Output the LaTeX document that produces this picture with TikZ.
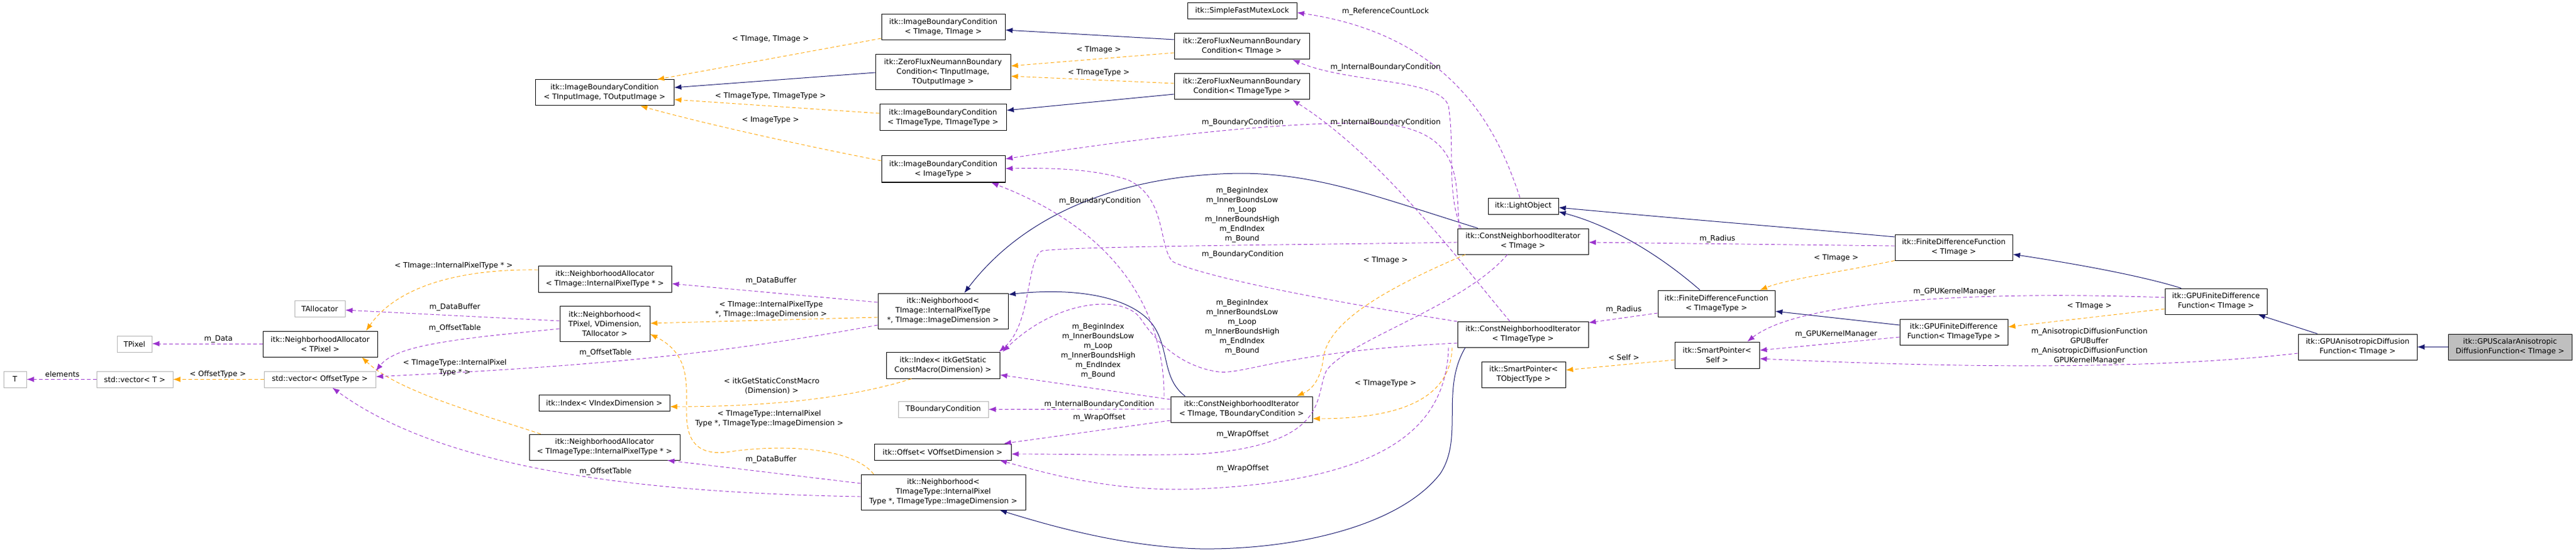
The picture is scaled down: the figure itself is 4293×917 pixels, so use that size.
\documentclass[tikz,border=0pt]{standalone}
\usepackage{fontspec}
\setmainfont{DejaVu Sans}
\usetikzlibrary{arrows.meta}
\definecolor{inhc}{HTML}{191970}
\definecolor{usec}{HTML}{9A32CD}
\definecolor{tplc}{HTML}{FFA500}
\newcommand\nd[7][box]{\node[#1,minimum width={(#5-#3)*1pt},minimum height={(#6-#4)*1pt}] (#2) at ({(#3+#5)/2},{(#4+#6)/2}) {#7};}
\newcommand\lb[4]{\node[lbl] (#1) at (#2,#3) {#4};}
\begin{document}
\begin{tikzpicture}[x=1pt,y=-1pt,
  every node/.style={font=\fontsize{12.3}{16}\selectfont},
  box/.style={draw=black,line width=1pt,fill=white,inner sep=0pt,align=center},
  gbox/.style={box,draw=black!30},
  cbox/.style={box,fill=black!25},
  lbl/.style={inner sep=0pt,align=center},
  tip/.style={-{Latex[length=12pt,width=9pt]}},
  inh/.style={tip,draw=inhc,line width=1pt},
  use/.style={tip,draw=usec,line width=0.9pt,dash pattern=on 6pt off 4pt},
  tpl/.style={tip,draw=tplc,line width=0.9pt,dash pattern=on 6pt off 4pt}]
\useasboundingbox[fill=white] (0,0) rectangle (4293,917);
% nodes
\nd{ibcIO}{892}{133}{1123}{176}{itk::ImageBoundaryCondition\\< TInputImage, TOutputImage >}
\nd{naA}{897}{443}{1119}{487}{itk::NeighborhoodAllocator\\< TImage::InternalPixelType * >}
\nd{nbP}{933}{510}{1083}{569}{itk::Neighborhood<\\TPixel, VDimension,\\TAllocator >}
\nd[gbox]{tal}{491}{501}{575}{528}{TAllocator}
\nd[gbox]{tpix}{195}{560}{253}{587}{TPixel}
\nd{naP}{438}{552}{629}{595}{itk::NeighborhoodAllocator\\< TPixel >}
\nd[gbox]{t}{6}{619}{44}{646}{T}
\nd[gbox]{svT}{161}{619}{288}{646}{std::vector< T >}
\nd[gbox]{svO}{440}{619}{626}{646}{std::vector< OffsetType >}
\nd{idxV}{898}{658}{1116}{685}{itk::Index< VIndexDimension >}
\nd{naB}{882}{724}{1133}{767}{itk::NeighborhoodAllocator\\< TImageType::InternalPixelType * >}
\nd{ibcTT}{1469}{24}{1675}{67}{itk::ImageBoundaryCondition\\< TImage, TImage >}
\nd{zfnIO}{1459}{91}{1684}{150}{itk::ZeroFluxNeumannBoundary\\Condition< TInputImage,\\TOutputImage >}
\nd{ibcYY}{1466}{174}{1677}{218}{itk::ImageBoundaryCondition\\< TImageType, TImageType >}
\nd{ibcIm}{1469}{260}{1675}{304}{itk::ImageBoundaryCondition\\< ImageType >}
\nd{nbA}{1463}{489}{1680}{548}{itk::Neighborhood<\\TImage::InternalPixelType\\*, TImage::ImageDimension >}
\nd{idxA}{1477}{587}{1666}{631}{itk::Index< itkGetStatic\\ConstMacro(Dimension) >}
\nd[gbox]{tbc}{1497}{669}{1647}{696}{TBoundaryCondition}
\nd{off}{1457}{740}{1685}{767}{itk::Offset< VOffsetDimension >}
\nd{nbB}{1435}{791}{1709}{850}{itk::Neighborhood<\\TImageType::InternalPixel\\Type *, TImageType::ImageDimension >}
\nd{cniB}{1951}{661}{2187}{704}{itk::ConstNeighborhoodIterator\\< TImage, TBoundaryCondition >}
\nd{sfm}{1979}{5}{2161}{32}{itk::SimpleFastMutexLock}
\nd{zfnTI}{1957}{56}{2182}{99}{itk::ZeroFluxNeumannBoundary\\Condition< TImage >}
\nd{zfnTT}{1957}{123}{2182}{166}{itk::ZeroFluxNeumannBoundary\\Condition< TImageType >}
\nd{lo}{2480}{330}{2597}{357}{itk::LightObject}
\nd{cniA}{2429}{381}{2647}{424}{itk::ConstNeighborhoodIterator\\< TImage >}
\nd{cniY}{2429}{536}{2647}{579}{itk::ConstNeighborhoodIterator\\< TImageType >}
\nd{fdfT}{2763}{484}{2958}{528}{itk::FiniteDifferenceFunction\\< TImageType >}
\nd{spS}{2791}{570}{2932}{614}{itk::SmartPointer<\\Self >}
\nd{spT}{2469}{603}{2609}{646}{itk::SmartPointer<\\TObjectType >}
\nd{fdfI}{3158}{391}{3354}{434}{itk::FiniteDifferenceFunction\\< TImage >}
\nd{gfI}{3608}{481}{3778}{524}{itk::GPUFiniteDifference\\Function< TImage >}
\nd{gfT}{3166}{532}{3346}{575}{itk::GPUFiniteDifference\\Function< TImageType >}
\nd{gani}{3830}{557}{4028}{600}{itk::GPUAnisotropicDiffusion\\Function< TImage >}
\nd[cbox]{gsc}{4080}{557}{4286}{600}{itk::GPUScalarAnisotropic\\DiffusionFunction< TImage >}
% inheritance
\draw[inh] (zfnIO.west |- 0,121) -- (ibcIO.east |- 0,146);
\draw[inh] (zfnTI.west |- 0,66) -- (ibcTT.east |- 0,50);
\draw[inh] (zfnTT.west |- 0,157) -- (ibcYY.east |- 0,184);
\draw[inh] (cniA.north -| 2463,0) .. controls (2300,330) and (2200,290) .. (2070,289) .. controls (1900,290) and (1720,340) .. (nbA.north -| 1607,0);
\draw[inh] (cniY.south -| 2442,0) .. controls (2400,650) and (2440,730) .. (2400,790) .. controls (2330,880) and (2150,917) .. (2000,915) .. controls (1880,912) and (1760,880) .. (nbB.south -| 1666,0);
\draw[inh] (cniB.north -| 1975,0) .. controls (1935,630) and (1950,580) .. (1920,540) .. controls (1880,490) and (1780,480) .. (nbA.east |- 0,491);
\draw[inh] (fdfT.north -| 2833,0) .. controls (2760,420) and (2680,375) .. (lo.east |- 0,353);
\draw[inh] (fdfI.west |- 0,395) .. controls (3050,385) and (2800,365) .. (lo.east |- 0,346);
\draw[inh] (gfT.west |- 0,542) -- (fdfT.east |- 0,519);
\draw[inh] (gfI.north -| 3635,0) .. controls (3570,460) and (3460,440) .. (fdfI.east |- 0,424);
\draw[inh] (gani.north -| 3862,0) -- (gfI.south -| 3763,0);
\draw[inh] (gsc.west) -- (gani.east);
% template instances
\draw[tpl] (ibcTT.west |- 0,64) -- (ibcIO.north -| 1095,0);
\draw[tpl] (ibcYY.west |- 0,189) -- (ibcIO.east |- 0,166);
\draw[tpl] (ibcIm.west |- 0,268) .. controls (1300,235) and (1150,200) .. (ibcIO.south -| 1067,0);
\draw[tpl] (zfnTI.west |- 0,88) -- (zfnIO.east |- 0,110);
\draw[tpl] (zfnTT.west |- 0,139) -- (zfnIO.east |- 0,127);
\draw[tpl] (naA.west |- 0,450) .. controls (760,448) and (660,480) .. (naP.north -| 610,0);
\draw[tpl] (naB.north -| 901,0) .. controls (780,684) and (660,650) .. (naP.south -| 603,0);
\draw[tpl] (svO.west) -- (svT.east);
\draw[tpl] (nbA.west |- 0,529) -- (nbP.east |- 0,539);
\draw[tpl] (nbB.north -| 1456,0) .. controls (1420,745) and (1300,740) .. (1210,754) .. controls (1150,760) and (1144,720) .. (1144,684) .. controls (1144,640) and (1150,590) .. (nbP.east |- 0,557);
\draw[tpl] (idxA.south -| 1519,0) .. controls (1430,660) and (1300,678) .. (idxV.east |- 0,678);
\draw[tpl] (cniA.south -| 2442,0) .. controls (2300,485) and (2210,540) .. (2205,600) .. controls (2200,635) and (2185,650) .. (cniB.north -| 2161,0);
\draw[tpl] (cniY.south -| 2420,0) .. controls (2418,650) and (2360,698) .. (cniB.east |- 0,698);
\draw[tpl] (fdfI.south west) .. controls (3060,455) and (2980,465) .. (fdfT.north -| 2933,0);
\draw[tpl] (gfI.west |- 0,515) -- (gfT.east |- 0,545);
\draw[tpl] (spS.west |- 0,600) -- (spT.east |- 0,617);
% usage
\draw[use] (naP.west |- 0,573) -- (tpix.east |- 0,573);
\draw[use] (svT.west) -- (t.east);
\draw[use] (nbP.west |- 0,535) -- (tal.east |- 0,517);
\draw[use] (nbP.west |- 0,548) .. controls (760,565) and (660,575) .. (svO.north east);
\draw[use] (nbA.west |- 0,504) -- (naA.east |- 0,473);
\draw[use] (nbA.west |- 0,542) .. controls (1200,590) and (1000,610) .. (svO.east |- 0,628);
\draw[use] (nbB.west |- 0,806) -- (naB.south -| 1112,0);
\draw[use] (nbB.west |- 0,828) .. controls (1100,822) and (750,790) .. (svO.south -| 554,0);
\draw[use] (lo.north -| 2533,0) .. controls (2500,230) and (2430,60) .. (sfm.east |- 0,21);
\draw[use] (cniA.north -| 2435,0) .. controls (2410,320) and (2425,250) .. (2414,177) .. controls (2400,130) and (2250,140) .. (zfnTI.south -| 2154,0);
\draw[use] (cniY.north -| 2516,0) .. controls (2420,420) and (2300,260) .. (zfnTT.south -| 2154,0);
\draw[use] (cniA.north -| 2432,0) .. controls (2425,300) and (2440,220) .. (2302,206) .. controls (2150,200) and (1900,230) .. (ibcIm.east |- 0,265);
\draw[use] (cniY.west |- 0,536) .. controls (2200,500) and (2000,460) .. (1954,436) .. controls (1930,410) and (1945,330) .. (1880,300) .. controls (1820,280) and (1740,280) .. (ibcIm.east |- 0,281);
\draw[use] (cniB.north -| 1940,0) .. controls (1940,560) and (1900,400) .. (ibcIm.south -| 1652,0);
\draw[use] (cniA.west |- 0,404) .. controls (2200,408) and (1800,410) .. (1737,418) .. controls (1710,430) and (1720,540) .. (idxA.north -| 1665,0);
\draw[use] (cniY.west |- 0,572) .. controls (2150,585) and (2070,625) .. (2031,620) .. controls (1960,610) and (1920,560) .. (1900,530) .. controls (1870,490) and (1760,500) .. (idxA.north -| 1671,0);
\draw[use] (cniB.west |- 0,666) -- (idxA.east |- 0,625);
\draw[use] (cniB.west |- 0,682) -- (tbc.east);
\draw[use] (cniB.west |- 0,701) -- (off.north -| 1673,0);
\draw[use] (cniA.south -| 2512,0) .. controls (2440,510) and (2240,570) .. (2210,619) .. controls (2190,660) and (2220,740) .. (2000,757) .. controls (1900,760) and (1800,757) .. (off.east |- 0,757);
\draw[use] (cniY.south -| 2414,0) .. controls (2410,700) and (2330,800) .. (2000,815) .. controls (1850,822) and (1730,785) .. (off.south -| 1666,0);
\draw[use] (fdfI.west |- 0,410) -- (cniA.east |- 0,404);
\draw[use] (fdfT.west |- 0,522) -- (cniY.east |- 0,538);
\draw[use] (gfI.west |- 0,496) .. controls (3300,485) and (3000,500) .. (spS.north -| 2912,0);
\draw[use] (gfT.west |- 0,562) -- (spS.east |- 0,584);
\draw[use] (gani.west |- 0,589) .. controls (3600,615) and (3300,615) .. (spS.east |- 0,598);
% labels
\lb{l1}{1284}{65}{< TImage, TImage >}
\lb{l2}{1284}{160}{< TImageType, TImageType >}
\lb{l3}{1284}{200}{< ImageType >}
\lb{l4}{1831}{83}{< TImage >}
\lb{l5}{1831}{121}{< TImageType >}
\lb{l6}{1285}{468}{m\_DataBuffer}
\lb{l7}{1285}{516}{< TImage::InternalPixelType\\*, TImage::ImageDimension >}
\lb{l8}{1833}{335}{m\_BoundaryCondition}
\lb{l9}{1830}{585}{m\_BeginIndex\\m\_InnerBoundsLow\\m\_Loop\\m\_InnerBoundsHigh\\m\_EndIndex\\m\_Bound}
\lb{l10}{1286}{644}{< itkGetStaticConstMacro\\(Dimension) >}
\lb{l11}{1832}{674}{m\_InternalBoundaryCondition}
\lb{l12}{1832}{696}{m\_WrapOffset}
\lb{l13}{1282}{698}{< TImageType::InternalPixel\\Type *, TImageType::ImageDimension >}
\lb{l14}{1285}{766}{m\_DataBuffer}
\lb{l15}{756}{443}{< TImage::InternalPixelType * >}
\lb{l16}{758}{512}{m\_DataBuffer}
\lb{l17}{758}{547}{m\_OffsetTable}
\lb{l18}{364}{565}{m\_Data}
\lb{l19}{104}{624}{elements}
\lb{l20}{363}{624}{< OffsetType >}
\lb{l21}{1009}{588}{m\_OffsetTable}
\lb{l22}{758}{613}{< TImageType::InternalPixel\\Type * >}
\lb{l23}{1009}{786}{m\_OffsetTable}
\lb{l24}{2309}{19}{m\_ReferenceCountLock}
\lb{l25}{2309}{112}{m\_InternalBoundaryCondition}
\lb{l26}{2071}{204}{m\_BoundaryCondition}
\lb{l27}{2309}{204}{m\_InternalBoundaryCondition}
\lb{l28}{2070}{358}{m\_BeginIndex\\m\_InnerBoundsLow\\m\_Loop\\m\_InnerBoundsHigh\\m\_EndIndex\\m\_Bound}
\lb{l29}{2071}{424}{m\_BoundaryCondition}
\lb{l30}{2309}{434}{< TImage >}
\lb{l31}{2070}{545}{m\_BeginIndex\\m\_InnerBoundsLow\\m\_Loop\\m\_InnerBoundsHigh\\m\_EndIndex\\m\_Bound}
\lb{l32}{2309}{639}{< TImageType >}
\lb{l33}{2071}{724}{m\_WrapOffset}
\lb{l34}{2071}{781}{m\_WrapOffset}
\lb{l35}{2862}{398}{m\_Radius}
\lb{l36}{3060}{430}{< TImage >}
\lb{l37}{2706}{516}{m\_Radius}
\lb{l38}{3060}{557}{m\_GPUKernelManager}
\lb{l39}{2706}{596}{< Self >}
\lb{l40}{3257}{486}{m\_GPUKernelManager}
\lb{l41}{3482}{510}{< TImage >}
\lb{l42}{3482}{577}{m\_AnisotropicDiffusionFunction\\GPUBuffer\\m\_AnisotropicDiffusionFunction\\GPUKernelManager}
\end{tikzpicture}
\end{document}
